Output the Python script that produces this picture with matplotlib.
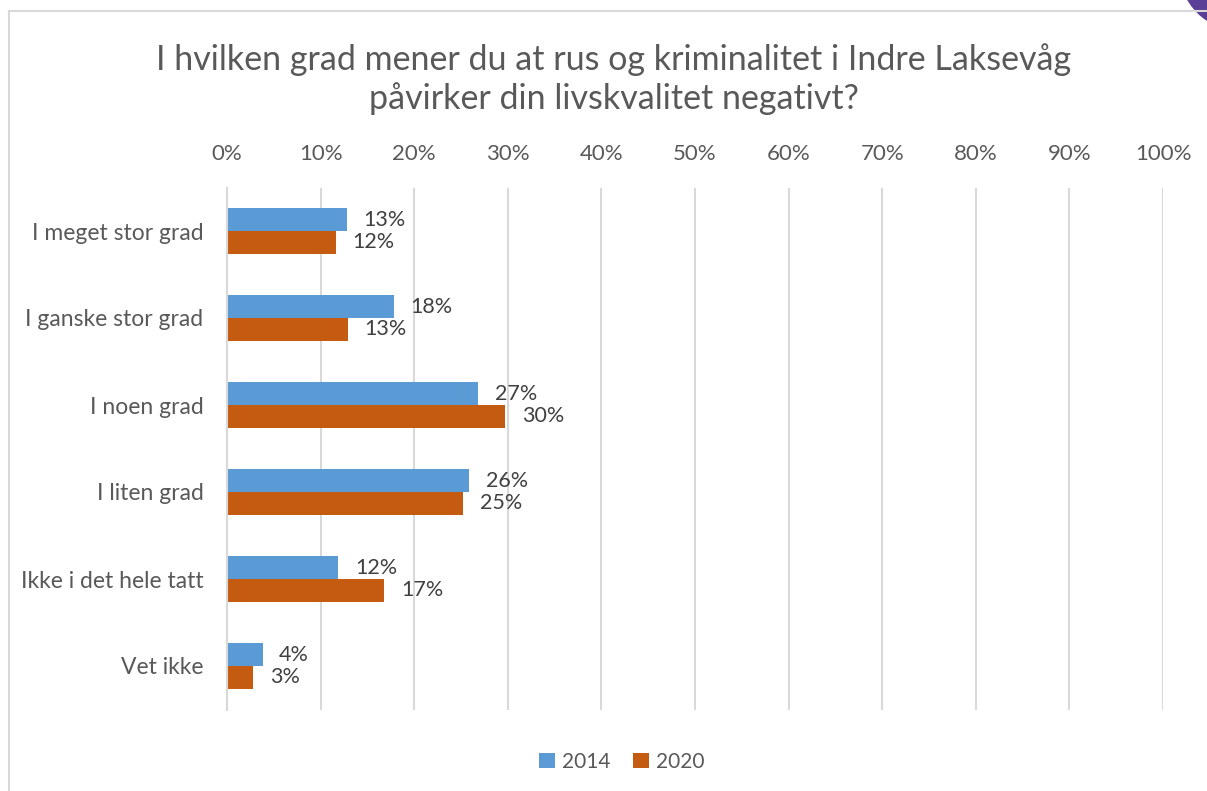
import matplotlib.pyplot as plt
import numpy as np
from matplotlib.lines import Line2D
from matplotlib.patches import Ellipse

plt.rcParams['font.family'] = ['Lato', 'DejaVu Sans']

categories = ["I meget stor grad", "I ganske stor grad", "I noen grad",
              "I liten grad", "Ikke i det hele tatt", "Vet ikke"]
values_2014 = [12.8, 17.8, 26.8, 25.9, 11.9, 3.8]
values_2020 = [11.6, 12.9, 29.7, 25.2, 16.8, 2.8]
labels_2014 = ["13%", "18%", "27%", "26%", "12%", "4%"]
labels_2020 = ["12%", "13%", "30%", "25%", "17%", "3%"]
ticks = list(range(0, 101, 10))

W, H = 1207, 791
fig = plt.figure(figsize=(W / 100, H / 100), dpi=100)
ax = fig.add_axes([227 / W, 1 - 709.5 / H, (1163 - 227) / W, (709.5 - 187.5) / H])

y = np.arange(len(categories))
bh = 0.26
blue, orange = "#5B9BD5", "#C55A11"
ax.barh(y - bh / 2, values_2014, height=bh, color=blue, label="2014", zorder=3)
ax.barh(y + bh / 2, values_2020, height=bh, color=orange, label="2020", zorder=3)

for yi, v, lab in zip(y - bh / 2, values_2014, labels_2014):
    ax.annotate(lab, (v, yi), xytext=(12, 0), textcoords="offset points",
                va="center", ha="left", fontsize=15.5, color="#404040")
for yi, v, lab in zip(y + bh / 2, values_2020, labels_2020):
    ax.annotate(lab, (v, yi), xytext=(12, 0), textcoords="offset points",
                va="center", ha="left", fontsize=15.5, color="#404040")

ax.set_xlim(0, 100)
ax.set_ylim(len(categories) - 0.5, -0.5)
ax.set_xticks(ticks)
ax.set_xticklabels([f"{t}%" for t in ticks])
ax.set_yticks(y)
ax.set_yticklabels(categories)
ax.xaxis.tick_top()
ax.tick_params(axis="x", length=0, pad=17, labelsize=16, labelcolor="#595959")
ax.tick_params(axis="y", length=0, pad=17, labelsize=16.5, labelcolor="#595959")
ax.grid(axis="x", color="#D9D9D9", linewidth=1.5, zorder=0)
for s in ["top", "right", "bottom"]:
    ax.spines[s].set_visible(False)
ax.spines["left"].set_color("#D9D9D9")
ax.spines["left"].set_linewidth(1.5)
ax.spines["left"].set_zorder(4)

fig.text(614 / W, 1 - 79 / H,
         "I hvilken grad mener du at rus og kriminalitet i Indre Laksevåg\npåvirker din livskvalitet negativt?",
         ha="center", va="center", fontsize=24.5, color="#595959", linespacing=1.22)

fig.legend(loc="center", bbox_to_anchor=(622 / W, 1 - 762 / H), ncol=2, frameon=False,
           fontsize=15, handlelength=0.75, handleheight=0.75, handletextpad=0.35,
           columnspacing=1.1, labelcolor="#595959")

# chart frame and corner decoration
fig.add_artist(Line2D([8.5 / W, 8.5 / W], [0, 1 - 10.5 / H], transform=fig.transFigure,
                      color="#D9D9D9", linewidth=1.5))
fig.add_artist(Line2D([8.5 / W, 1], [1 - 10.5 / H, 1 - 10.5 / H], transform=fig.transFigure,
                      color="#D9D9D9", linewidth=1.5))
fig.add_artist(Ellipse((1240 / W, 1 + 30 / H), 120 / W, 120 / H, transform=fig.transFigure,
                       color="#5B3E96"))

fig.savefig("out.png", dpi=100)
